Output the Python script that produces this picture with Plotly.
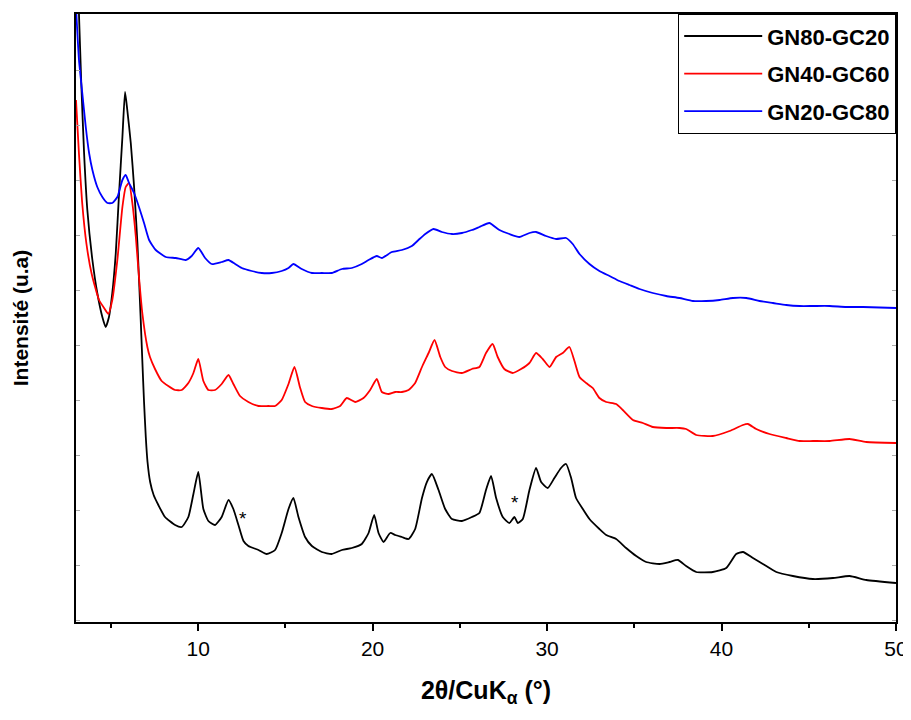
import plotly.graph_objects as go

# 2theta (deg) and intensity (a.u.)
names = ["GN80-GC20", "GN40-GC60", "GN20-GC80"]
colors = ["#000000", "#ff0000", "#0000ff"]

x_gn80 = [3.0, 3.17, 3.3, 3.46, 3.65, 3.94, 4.22, 4.51, 4.70, 4.89, 5.08, 5.28, 5.47, 5.66, 5.81,
          5.94, 6.14, 6.33, 6.52, 6.71, 6.80, 6.90, 7.0, 7.1, 7.25, 7.45, 7.72, 8.10, 8.68, 9.06,
          9.44, 9.73, 10.01, 10.30, 10.59, 10.97, 11.35, 11.74, 12.02, 12.31, 12.60, 12.88, 13.46,
          13.93, 14.41, 14.79, 15.18, 15.46, 15.75, 16.13, 16.52, 17.09, 17.66, 18.24, 18.81,
          19.38, 19.77, 20.09, 20.34, 20.63, 21.01, 21.30, 21.68, 22.06, 22.44, 22.83, 23.11,
          23.40, 23.78, 24.16, 24.55, 25.12, 25.69, 26.12, 26.50, 26.79, 27.08, 27.46, 27.84,
          28.13, 28.32, 28.61, 28.99, 29.37, 29.66, 30.04, 30.42, 30.80, 31.09, 31.38, 31.66,
          32.05, 32.43, 33.00, 33.39, 33.96, 34.53, 35.11, 35.68, 36.45, 37.02, 37.50, 37.97,
          38.55, 39.50, 40.27, 40.84, 41.23, 41.80, 42.37, 43.14, 44.09, 45.24, 46.39, 47.34,
          48.30, 50.0]
y_gn80 = [680, 608, 540, 470, 412, 362, 329, 305, 295, 305, 329, 369, 429, 485, 530,
          512, 479, 435, 379, 302, 262, 220, 185, 160, 140, 127, 117, 105, 97, 95,
          105, 128, 150, 113, 101, 97, 105, 122, 113, 97, 81, 76, 72,
          68, 72, 89, 113, 124, 105, 85, 76, 70, 68, 72, 74,
          78, 89, 107, 89, 80, 89, 87, 85, 83, 93, 124, 140,
          148, 132, 113, 103, 101, 105, 109, 132, 146, 124, 105, 99,
          105, 99, 103, 132, 154, 140, 134, 144, 154, 158, 144, 124,
          113, 103, 93, 87, 83, 74, 66, 60, 58, 60, 62, 56,
          50, 50, 54, 68, 70, 64, 58, 50, 46, 43, 44, 46,
          42, 39]

x_gn40 = [3.0, 3.17, 3.35, 3.6, 3.9, 4.32, 4.61, 4.85, 5.08, 5.37, 5.66, 5.85, 6.04, 6.23, 6.43,
          6.61, 6.80, 7.09, 7.24, 7.53, 7.91, 8.29, 8.68, 9.06, 9.44, 9.73, 10.01, 10.30, 10.59,
          10.97, 11.35, 11.74, 12.02, 12.40, 12.88, 13.46, 14.03, 14.41, 14.79, 15.18, 15.52,
          15.85, 16.13, 16.52, 17.09, 17.66, 18.14, 18.52, 19.00, 19.48, 19.86, 20.24, 20.53,
          20.91, 21.30, 21.68, 22.06, 22.44, 22.83, 23.21, 23.55, 23.88, 24.16, 24.55, 25.12,
          25.69, 26.12, 26.50, 26.88, 27.17, 27.55, 28.03, 28.51, 28.99, 29.37, 29.75, 30.14,
          30.52, 30.90, 31.28, 31.57, 31.86, 32.24, 32.62, 33.00, 33.39, 33.96, 34.34, 34.92,
          35.49, 36.06, 36.83, 37.59, 37.97, 38.55, 39.50, 40.46, 41.23, 41.51, 41.99, 42.75,
          43.71, 44.48, 45.24, 46.20, 47.34, 48.30, 50.0]
y_gn40 = [522, 468, 420, 378, 348, 322, 314, 308, 322, 362, 415, 435, 439, 419, 385,
          345, 309, 275, 265, 253, 241, 236, 232, 232, 239, 249, 263, 241, 232,
          232, 238, 247, 238, 226, 220, 216, 216, 216, 222, 238, 255,
          234, 220, 216, 214, 213, 216, 224, 220, 224, 232, 243, 230,
          228, 230, 230, 232, 239, 255, 269, 282, 265, 255, 251, 249,
          253, 255, 269, 278, 265, 253, 249, 253, 259, 269, 263, 255,
          265, 269, 275, 261, 245, 239, 234, 224, 220, 218, 212, 202,
          199, 195, 194, 194, 193, 187, 186, 191, 197, 198, 193, 188,
          184, 181, 181, 181, 183, 180, 179]

x_gn20 = [3.0, 3.17, 3.36, 3.56, 3.75, 3.94, 4.22, 4.51, 4.80, 5.08, 5.37, 5.66, 5.85, 6.04, 6.33,
          6.61, 6.90, 7.19, 7.57, 8.15, 8.72, 9.29, 9.63, 10.01, 10.40, 10.78, 11.35, 11.74,
          12.12, 12.50, 13.07, 13.65, 14.22, 14.79, 15.18, 15.46, 15.94, 16.52, 17.09, 17.66,
          18.24, 18.81, 19.38, 19.77, 20.24, 20.53, 21.10, 21.68, 22.25, 22.63, 23.02, 23.49,
          23.97, 24.55, 25.12, 25.69, 26.12, 26.69, 27.27, 27.84, 28.41, 28.99, 29.37, 29.94,
          30.52, 31.09, 31.47, 31.86, 32.43, 33.00, 33.58, 34.15, 34.72, 35.30, 36.06, 36.83,
          37.59, 38.36, 39.12, 39.89, 40.65, 41.42, 42.18, 42.95, 43.71, 44.48, 45.24, 46.20,
          47.15, 48.11, 50.0]
y_gn20 = [615, 562, 529, 495, 469, 452, 435, 425, 419, 419, 425, 442, 447, 439, 429,
          415, 399, 382, 372, 365, 364, 362, 366, 374, 364, 358, 360, 362,
          358, 354, 351, 349, 349, 351, 354, 358, 353, 349, 349, 349,
          353, 354, 358, 362, 366, 364, 370, 372, 376, 382, 388, 393,
          390, 388, 389, 392, 395, 399, 392, 388, 385, 389, 390, 386,
          383, 384, 378, 368, 358, 351, 346, 341, 337, 333, 329, 326,
          324, 321, 321, 322, 324, 324, 321, 319, 317, 316, 316, 316,
          315, 315, 314]

# asterisk markers (position in data units)
star_x = [12.6, 28.15]
star_y = [104, 120]

x_tickvals = [10, 20, 30, 40, 50]
x_minor_tickvals = [5, 15, 25, 35, 45]

FONT = "Arial, Liberation Sans, sans-serif"

fig = go.Figure()
for name, color, xs, ys in zip(names, colors, [x_gn80, x_gn40, x_gn20], [y_gn80, y_gn40, y_gn20]):
    assert len(xs) == len(ys)
    fig.add_trace(go.Scatter(x=xs, y=ys, mode="lines", name=name,
                             line=dict(color=color, width=1.8, shape="spline", smoothing=0.5),
                             legendgroup=name))

for sx, sy in zip(star_x, star_y):
    fig.add_annotation(x=sx, y=sy, text="*", showarrow=False,
                       font=dict(family=FONT, size=19, color="#000"))

# the page body adds an 8px offset, so the figure is 8px smaller than the window
fig.update_layout(
    width=903, height=712,
    margin=dict(l=68, r=15, t=6, b=98),
    paper_bgcolor="white", plot_bgcolor="white",
    font=dict(family=FONT, color="#000"),
    showlegend=True,
    legend=dict(
        x=1.0, y=1.0, xanchor="right", yanchor="top",
        bordercolor="#000", borderwidth=1.2, bgcolor="white",
        font=dict(family=FONT, size=22, color="#000", weight="bold"),
        itemwidth=78, tracegroupgap=6,
    ),
)

fig.update_xaxes(
    range=[3, 50], tickvals=x_tickvals, ticks="outside", ticklen=7, tickwidth=2,
    tickcolor="#000", showline=True, linecolor="#000", linewidth=2, mirror=True,
    showgrid=False, zeroline=False, automargin=False,
    minor=dict(tickvals=x_minor_tickvals, ticks="outside", ticklen=4, tickwidth=2, tickcolor="#000"),
    tickfont=dict(family=FONT, size=21, color="#000"),
    title=dict(text="<b>2θ/CuK<sub>α</sub> (°)</b>", font=dict(family=FONT, size=25, color="#000"),
               standoff=22),
)
fig.update_yaxes(
    range=[0, 608], showticklabels=False, ticks="inside", ticklen=4, tickwidth=1,
    tickcolor="#aaa", tick0=2, dtick=55,
    showline=True, linecolor="#000", linewidth=2, mirror="ticks",
    showgrid=False, zeroline=False, automargin=False,
    title=dict(text="<b>Intensité (u.a)</b>", font=dict(family=FONT, size=21, color="#000"),
               standoff=40),
)

fig.write_html("out.html")
